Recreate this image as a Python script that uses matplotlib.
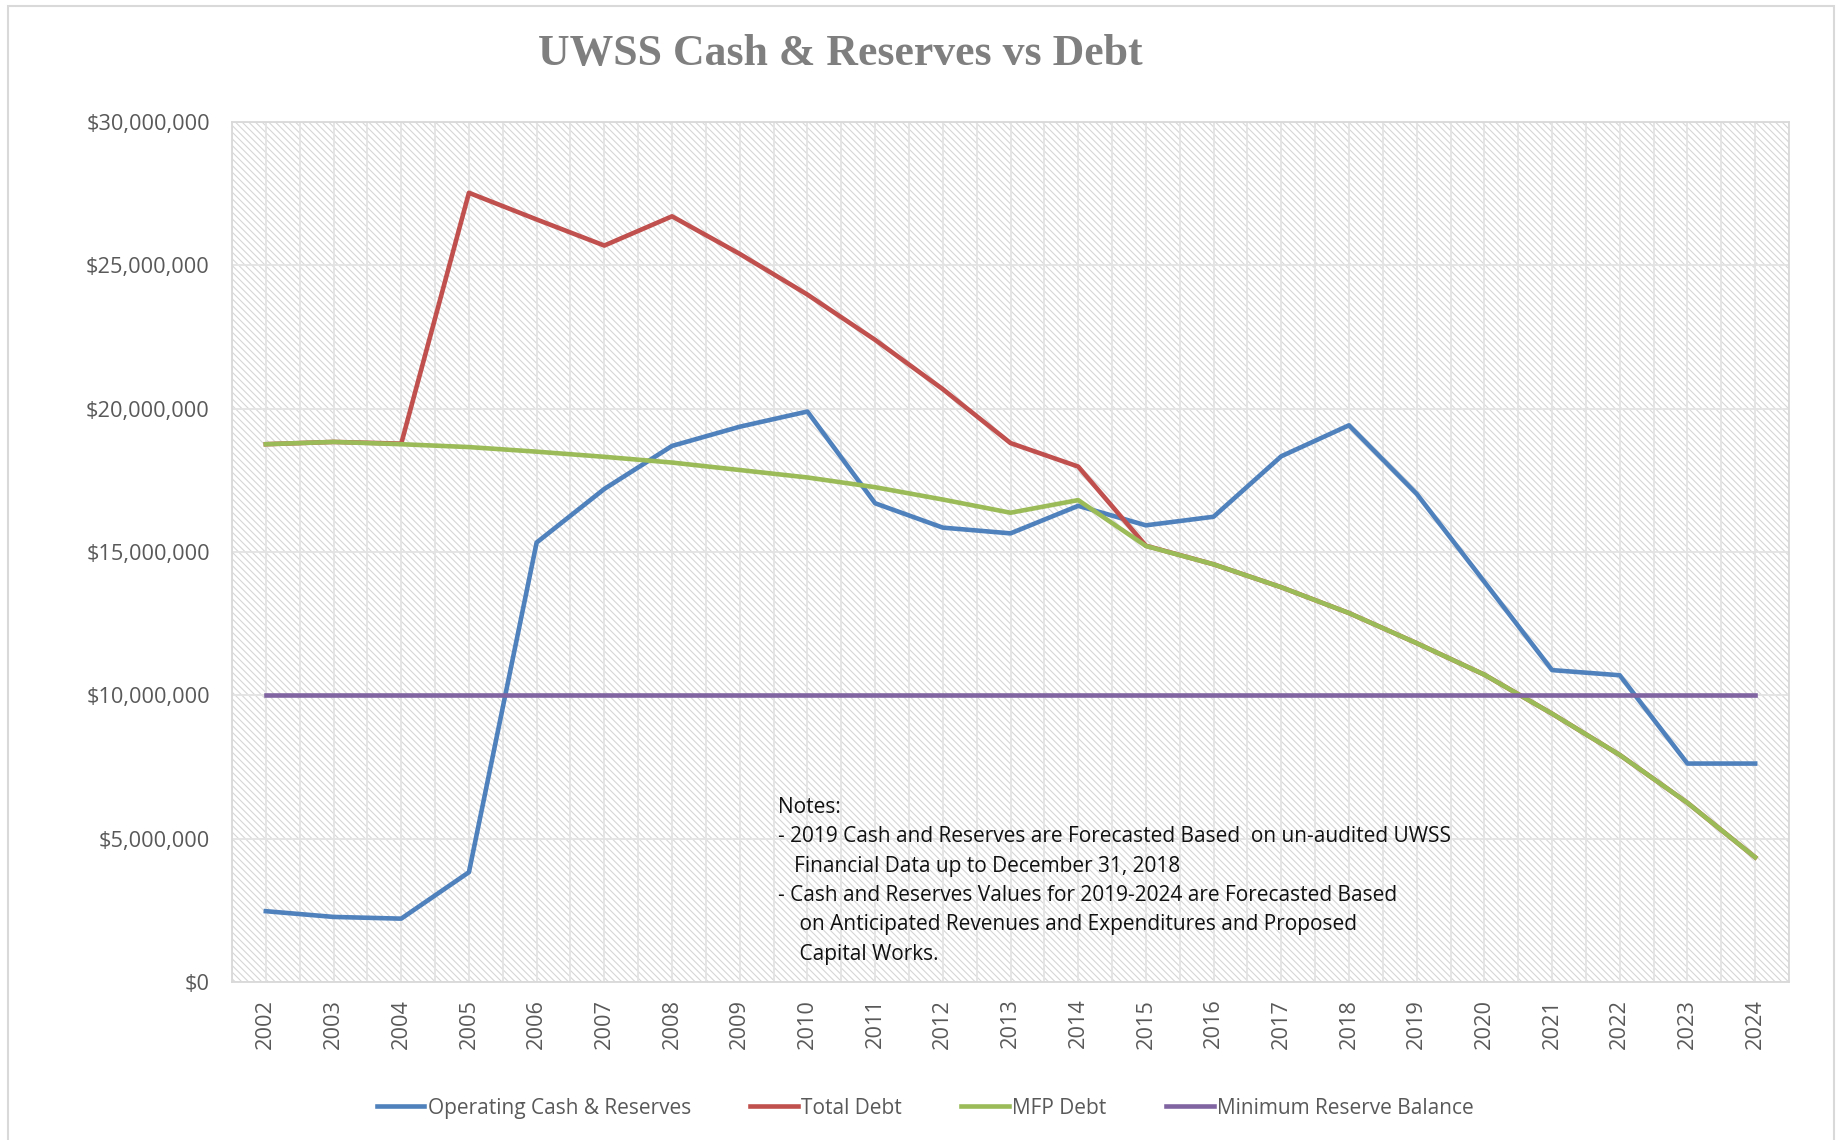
import matplotlib
matplotlib.use("Agg")
import matplotlib.pyplot as plt
from matplotlib.patches import Rectangle
from matplotlib.ticker import FuncFormatter
import numpy as np

# data (dollars)
years = [str(y) for y in range(2002, 2025)]

operating_cash = [2.47e6, 2.27e6, 2.21e6, 3.83e6, 15.33e6, 17.2e6, 18.7e6, 19.37e6,
                  19.9e6, 16.7e6, 15.85e6, 15.65e6, 16.61e6, 15.93e6, 16.23e6,
                  18.34e6, 19.42e6, 17.03e6, 13.96e6, 10.88e6, 10.70e6, 7.62e6, 7.62e6]

mfp_debt = [18.76e6, 18.84e6, 18.76e6, 18.66e6, 18.5e6, 18.32e6, 18.12e6, 17.86e6,
            17.6e6, 17.26e6, 16.83e6, 16.37e6, 16.81e6, 15.21e6, 14.57e6,
            13.77e6, 12.87e6, 11.82e6, 10.72e6, 9.36e6, 7.92e6, 6.25e6, 4.35e6]

# total debt equals MFP debt outside 2004-2015 (hidden under the green line)
total_debt = [18.76e6, 18.84e6, 18.78e6, 27.53e6, 26.6e6, 25.69e6, 26.71e6, 25.4e6,
              23.98e6, 22.4e6, 20.68e6, 18.8e6, 17.98e6, 15.22e6, 14.57e6,
              13.77e6, 12.87e6, 11.82e6, 10.72e6, 9.36e6, 7.92e6, 6.25e6, 4.35e6]

min_reserve = [10e6] * len(years)

notes = ("Notes:\n"
         "- 2019 Cash and Reserves are Forecasted Based  on un-audited UWSS\n"
         "   Financial Data up to December 31, 2018\n"
         "- Cash and Reserves Values for 2019-2024 are Forecasted Based\n"
         "    on Anticipated Revenues and Expenditures and Proposed\n"
         "    Capital Works.")

plt.rcParams['font.family'] = ['Open Sans', 'DejaVu Sans']
plt.rcParams['hatch.linewidth'] = 0.8

fig = plt.figure(figsize=(18.43, 11.40), dpi=100)
fig.patch.set_facecolor('white')

# outer chart border
fig.patches.append(Rectangle((7.5 / 1843, -0.01), (1834 - 7.5) / 1843, 1.01 - 6 / 1140,
                             transform=fig.transFigure, fill=False,
                             edgecolor='#d9d9d9', linewidth=1.5))

ax = fig.add_axes([232 / 1843, 158 / 1140, (1789 - 232) / 1843, (982 - 122) / 1140])
ax.set_facecolor('white')

# hatched plot area
ax.add_patch(Rectangle((0, 0), 1, 1, transform=ax.transAxes, facecolor='white',
                       edgecolor='#d6d6d6', hatch='\\\\\\\\\\', linewidth=0, zorder=0))

x = np.arange(len(years))
ax.plot(x, operating_cash, color='#4F81BD', lw=3.3, label='Operating Cash & Reserves',
        zorder=3, solid_joinstyle='round')
ax.plot(x, total_debt, color='#C0504D', lw=3.3, label='Total Debt', zorder=3,
        solid_joinstyle='round')
ax.plot(x, mfp_debt, color='#9BBB59', lw=3.3, label='MFP Debt', zorder=3,
        solid_joinstyle='round')
ax.plot(x, min_reserve, color='#8064A2', lw=3.3, label='Minimum Reserve Balance', zorder=3)

ax.set_xlim(-0.5, len(years) - 0.5)
ax.set_ylim(0, 30e6)
ax.set_yticks(np.arange(0, 30e6 + 1, 5e6))
ax.yaxis.set_major_formatter(FuncFormatter(lambda v, p: f"${v:,.0f}"))
ax.set_xticks(x)
ax.set_xticklabels(years, rotation=90)
ax.set_xticks(np.arange(-0.5, len(years), 1.0), minor=True)

ax.grid(True, axis='y', which='major', color='#e3e3e3', lw=1.3, zorder=1)
ax.grid(True, axis='x', which='both', color='#e3e3e3', lw=1.3, zorder=1)
ax.set_axisbelow(True)

ax.tick_params(axis='both', which='both', length=0, labelsize=15.7, labelcolor='#595959')
ax.tick_params(axis='y', pad=16)
ax.tick_params(axis='x', pad=12)

for s in ax.spines.values():
    s.set_color('#d9d9d9')
    s.set_linewidth(1.3)

ax.text(0.3507, 0.215, notes, transform=ax.transAxes, ha='left', va='top',
        fontsize=15, color='#111111', linespacing=1.52, zorder=4)

fig.text(0.456, 0.9526, 'UWSS Cash & Reserves vs Debt', ha='center', va='center',
         fontsize=31.5, fontweight='bold', color='#7f7f7f', family='Liberation Serif')

fig.legend(loc='center', bbox_to_anchor=(0.502, 0.028), ncol=4, frameon=False,
           fontsize=15, handlelength=2.3, handletextpad=0.15, columnspacing=2.85,
           labelcolor='#595959')

fig.savefig('out.png', dpi=100, facecolor='white')
